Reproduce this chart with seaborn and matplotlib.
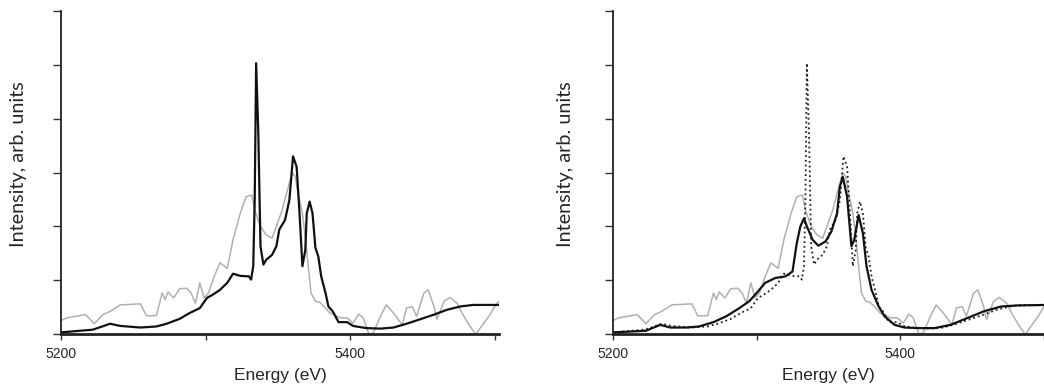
import numpy as np
import pandas as pd
import matplotlib
matplotlib.use("Agg")
import matplotlib.pyplot as plt
import seaborn as sns

# experimental spectrum (black in left panel, dotted in right panel)
exp_e = [5200, 5222, 5234, 5241, 5255, 5266, 5273, 5282, 5289, 5296, 5301, 5305,
         5310, 5315, 5319, 5324, 5330, 5331.5, 5333, 5334, 5335, 5336.5, 5338, 5340,
         5342, 5346, 5349, 5351, 5355, 5358, 5360.5, 5363, 5365, 5367, 5369, 5370,
         5372, 5374, 5376, 5378, 5380, 5383, 5385, 5388, 5392, 5398, 5402, 5411,
         5421, 5430, 5439, 5448, 5458, 5467, 5476, 5485, 5503]
exp_i = [0.03, 0.08, 0.19, 0.15, 0.12, 0.14, 0.19, 0.28, 0.39, 0.48, 0.67, 0.73,
         0.82, 0.95, 1.12, 1.08, 1.07, 1.01, 1.26, 2.49, 5.03, 3.73, 1.63, 1.29,
         1.38, 1.47, 1.63, 1.94, 2.12, 2.49, 3.30, 3.11, 2.24, 1.26, 1.56, 2.24,
         2.46, 2.24, 1.60, 1.44, 1.07, 0.76, 0.51, 0.42, 0.22, 0.22, 0.15, 0.11,
         0.10, 0.12, 0.19, 0.27, 0.36, 0.45, 0.51, 0.54, 0.54]

# reference spectrum (grey, both panels)
ref_e = [5200, 5204, 5217, 5223, 5229, 5234, 5241, 5255, 5259, 5266, 5270, 5272,
         5274, 5278, 5282, 5287, 5290, 5293, 5296, 5299, 5302, 5306, 5310, 5315,
         5319, 5324, 5328, 5332, 5334, 5338, 5342, 5346, 5349, 5353, 5356, 5360,
         5362, 5364, 5367, 5369, 5371, 5373, 5376, 5379, 5383, 5386, 5389, 5393,
         5398, 5402, 5406, 5409, 5413, 5416, 5421, 5425, 5430, 5436, 5439, 5443,
         5446, 5451, 5454, 5458, 5460, 5465, 5469, 5474, 5478, 5483, 5487, 5490,
         5496, 5500, 5503]
ref_i = [0.25, 0.30, 0.36, 0.19, 0.36, 0.42, 0.54, 0.56, 0.34, 0.34, 0.76, 0.64,
         0.78, 0.67, 0.84, 0.85, 0.76, 0.57, 0.95, 0.67, 0.76, 1.07, 1.32, 1.22,
         1.75, 2.24, 2.55, 2.58, 2.30, 2.00, 1.84, 1.78, 2.00, 2.30, 2.61, 2.99,
         2.93, 2.61, 2.24, 1.81, 1.26, 0.76, 0.61, 0.59, 0.48, 0.39, 0.36, 0.30,
         0.30, 0.20, 0.37, 0.30, 0.0, 0.02, 0.33, 0.54, 0.39, 0.17, 0.48, 0.51,
         0.33, 0.76, 0.82, 0.51, 0.27, 0.61, 0.68, 0.57, 0.36, 0.14, -0.01, 0.11,
         0.33, 0.51, 0.61]

# calculated spectrum (black solid, right panel)
calc_e = [5200, 5223, 5233, 5240, 5251, 5260, 5270, 5279, 5288, 5295, 5301, 5306,
          5313, 5320, 5325, 5328, 5330.5, 5333, 5335, 5339, 5343, 5348, 5352, 5356,
          5358, 5360, 5363, 5366, 5368, 5371, 5374, 5376.5, 5380, 5385, 5389, 5396,
          5403, 5412, 5424, 5435, 5447, 5458, 5470, 5481, 5503]
calc_i = [0.03, 0.06, 0.17, 0.12, 0.12, 0.14, 0.22, 0.33, 0.48, 0.61, 0.79, 0.95,
          1.04, 1.07, 1.16, 1.69, 2.00, 2.15, 2.00, 1.75, 1.64, 1.72, 1.90, 2.24,
          2.74, 2.92, 2.55, 1.63, 1.75, 2.21, 1.87, 1.26, 0.82, 0.51, 0.33, 0.17,
          0.12, 0.11, 0.11, 0.17, 0.30, 0.42, 0.51, 0.53, 0.54]

sns.set_style("white")
fig = plt.figure(figsize=(10.44, 3.89), dpi=100)
ax1 = fig.add_axes([0.0584, 0.1414, 0.4196, 0.8303])
ax2 = fig.add_axes([0.587, 0.1414, 0.413, 0.8303])

grey = "#b0b0b0"
sns.lineplot(x=ref_e, y=ref_i, ax=ax1, color=grey, lw=1.1, sort=False, estimator=None)
sns.lineplot(x=exp_e, y=exp_i, ax=ax1, color="#111111", lw=1.6, sort=False, estimator=None)

sns.lineplot(x=ref_e, y=ref_i, ax=ax2, color=grey, lw=1.1, sort=False, estimator=None)
sns.lineplot(x=exp_e, y=exp_i, ax=ax2, color="#222222", lw=1.3, ls=":", sort=False, estimator=None)
sns.lineplot(x=calc_e, y=calc_i, ax=ax2, color="#111111", lw=1.6, sort=False, estimator=None)

for ax, right, lx in ((ax1, 5503, -0.078), (ax2, 5498, -0.09)):
    ax.set_xlim(5200, right)
    ax.set_ylim(0, 6)
    sns.despine(ax=ax)
    for s in ("left", "bottom"):
        ax.spines[s].set_color("#222222")
        ax.spines[s].set_linewidth(1.3)
    ax.spines["bottom"].set_linewidth(2)
    ax.set_yticks(range(7))
    ax.set_yticklabels([])
    ax.set_xticks([5200, 5300, 5400, 5500])
    ax.set_xticklabels(["5200", "", "5400", ""], fontsize=10, family="Liberation Sans")
    ax.tick_params(axis="y", direction="out", length=6, width=1, color="#333333", left=True)
    ax.tick_params(axis="x", direction="out", length=4.5, width=1, color="#333333", bottom=True, pad=5)
    ax.set_xlabel("Energy (eV)", fontsize=12.5, family="Liberation Sans", labelpad=5)
    ax.set_ylabel("Intensity, arb. units", fontsize=14.3, family="Lato")
    ax.yaxis.set_label_coords(lx, 0.526)
    ax.patch.set_alpha(0)

fig.savefig("out.png", dpi=100)
